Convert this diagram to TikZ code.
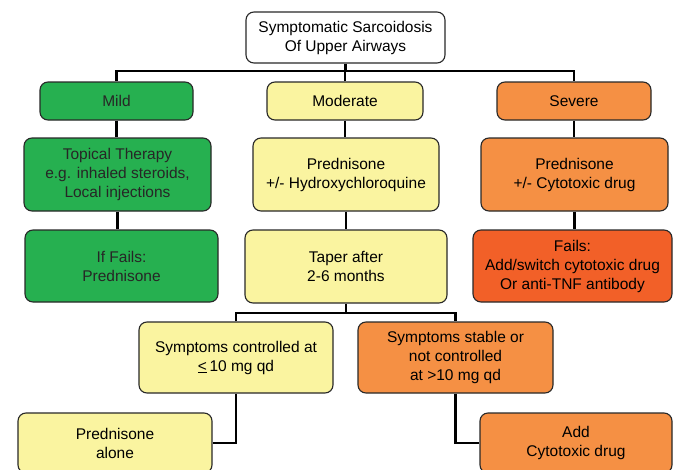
\documentclass[tikz,border=0pt]{standalone}
\usepackage{fontspec}
\setmainfont{Liberation Sans}
\definecolor{cgreen}{RGB}{38,176,80}
\definecolor{cyellow}{RGB}{250,244,160}
\definecolor{corange}{RGB}{245,144,68}
\definecolor{cred}{RGB}{242,96,40}
\definecolor{cborder}{RGB}{40,40,40}
\tikzset{
  boxbase/.style={draw=cborder, line width=1.1pt, rounded corners=8pt, inner sep=0pt,
    align=center, font=\fontsize{15.5}{19}\selectfont, text=black},
  whitebox/.style={boxbase, fill=white},
  greenbox/.style={boxbase, fill=cgreen, text=black!85},
  yellowbox/.style={boxbase, fill=cyellow},
  orangebox/.style={boxbase, fill=corange},
  redbox/.style={boxbase, fill=cred},
  link/.style={draw=black, line width=2.4pt}
}
\begin{document}
\begin{tikzpicture}[x=1pt, y=-1pt]
\useasboundingbox (0,0) rectangle (678,469);
\clip (0,0) rectangle (678,469);
% nodes
\node[whitebox, minimum width=199pt, minimum height=51pt] (top) at (345.5,37.5) {Symptomatic Sarcoidosis\\Of Upper Airways};
\node[greenbox, minimum width=153pt, minimum height=38pt] (mild) at (116.5,101) {Mild};
\node[yellowbox, minimum width=156pt, minimum height=38pt] (moderate) at (345,101) {Moderate};
\node[orangebox, minimum width=154pt, minimum height=38pt] (severe) at (574,101) {Severe};
\node[greenbox, minimum width=187pt, minimum height=73pt] (topical) at (117.5,174.5) {Topical Therapy\\e.g. inhaled steroids,\\Local injections};
\node[yellowbox, minimum width=186pt, minimum height=73pt] (predhyd) at (346,174.5) {Prednisone\\+/- Hydroxychloroquine};
\node[orangebox, minimum width=187pt, minimum height=73pt] (predcyt) at (574.5,174.5) {Prednisone\\+/- Cytotoxic drug};
\node[greenbox, minimum width=193pt, minimum height=72pt] (iffails) at (121.5,266) {If Fails:\\Prednisone};
\node[yellowbox, minimum width=202pt, minimum height=73pt] (taper) at (346,266.5) {Taper after\\2-6 months};
\node[redbox, minimum width=199pt, minimum height=72pt] (fails) at (572.5,266) {Fails:\\Add/switch cytotoxic drug\\Or anti-TNF antibody};
\node[yellowbox, minimum width=194pt, minimum height=71pt] (ctrl) at (236,357.5) {Symptoms controlled at\\\underline{<}\,10 mg qd};
\node[orangebox, minimum width=195pt, minimum height=71pt] (stable) at (455.5,357.5) {Symptoms stable or\\not controlled\\at >10 mg qd};
\node[yellowbox, minimum width=194pt, minimum height=60pt] (alone) at (115,443) {Prednisone\\alone};
\node[orangebox, minimum width=192pt, minimum height=60pt] (add) at (576,443) {Add\\Cytotoxic drug};
% connectors
\coordinate (b1) at (345.5,71);
\coordinate (b2) at (346,313);
\begin{scope}[on background layer/.try]
\end{scope}
\draw[link] (top.south) -- (b1);
\draw[link] (mild.north) |- (b1) -| (severe.north);
\draw[link] (moderate.north) -- (moderate.north |- b1);
\draw[link] (mild.south) -- (topical.north -| mild.south);
\draw[link] (moderate.south) -- (predhyd.north -| moderate.south);
\draw[link] (severe.south) -- (predcyt.north -| severe.south);
\draw[link] (topical.south) -- (iffails.north -| topical.south);
\draw[link] (predhyd.south) -- (taper.north -| predhyd.south);
\draw[link] (predcyt.south) -- (fails.north -| predcyt.south);
\draw[link] (taper.south) -- (b2);
\draw[link] (ctrl.north) |- (b2) -| (stable.north);
\draw[link] (ctrl.south) |- (alone.east);
\draw[link] (stable.south) |- (add.west);
\end{tikzpicture}
\end{document}
